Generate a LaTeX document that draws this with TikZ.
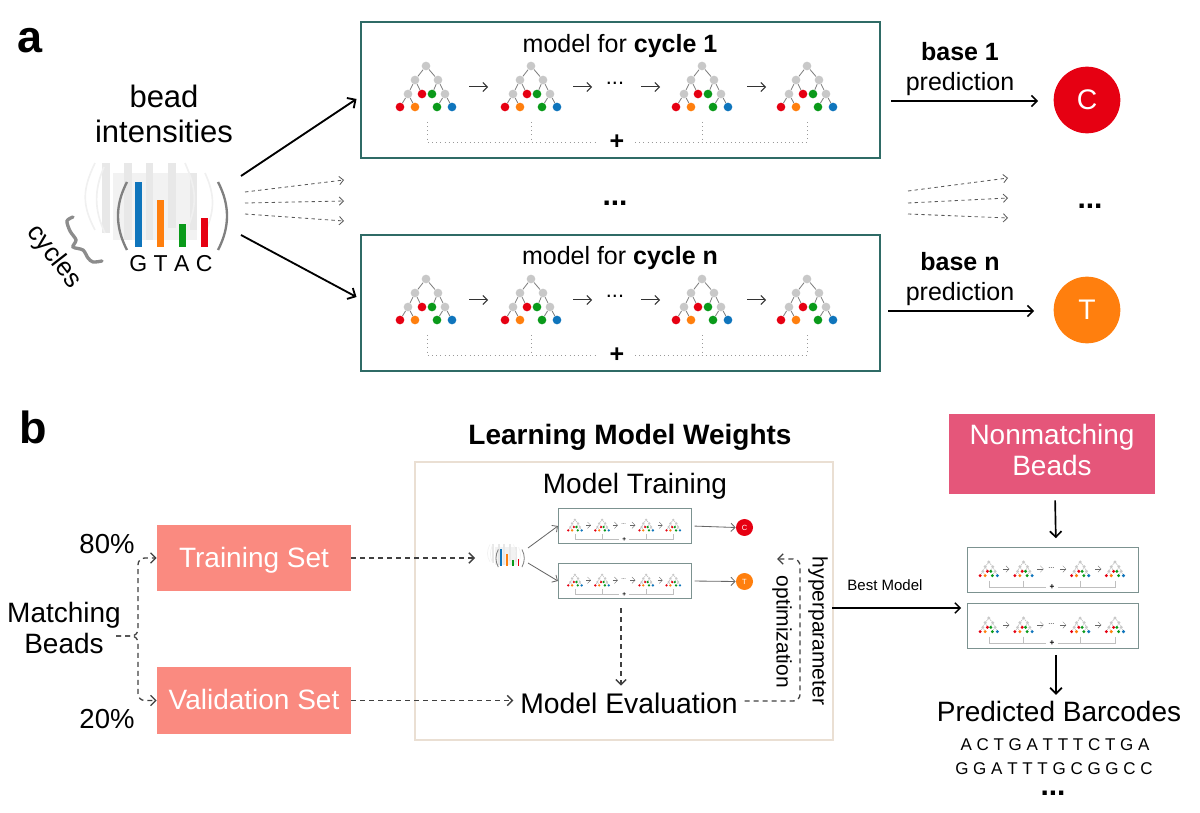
\documentclass[tikz,border=0pt]{standalone}
\usepackage{fontspec}
\setmainfont{Liberation Sans}
\usetikzlibrary{arrows.meta}
\definecolor{frameTeal}{HTML}{2F6B66}
\definecolor{beadRed}{HTML}{E60012}
\definecolor{beadOrange}{HTML}{FF7F0E}
\definecolor{beadGreen}{HTML}{0A9A1A}
\definecolor{beadBlue}{HTML}{0F75BC}
\definecolor{treeGray}{HTML}{C8C8C8}
\definecolor{setSalmon}{HTML}{FA8A80}
\definecolor{setPink}{HTML}{E5567A}
\definecolor{frameBeige}{HTML}{EADFD3}
\newcommand{\pxfont}[2]{\fontsize{#1}{#2}\selectfont}
\tikzset{
    treeEdge/.style={draw=gray,line width=.5pt},
    panelFrame/.style={draw=frameTeal,line width=1.2pt},
    panelBracket/.style={draw=gray!80,dotted,line width=.5pt},
    panelArrow/.style={->,>={Straight Barb},draw=black!80,line width=.6pt},
    beadParen/.style={draw=gray,line width=1.4pt},
    beadHalo/.style={draw=black!6,line width=1pt},
    treeDot/.style={circle,inner sep=0pt,minimum size=5.2pt},
    smallPanel/.style={scale=#1,transform shape,
        treeDot/.style={circle,inner sep=0pt,minimum size=6pt},
        treeEdge/.style={draw=gray!70,line width=.2pt},
        panelFrame/.style={draw=frameTeal!45!gray!80,line width=.6pt},
        panelBracket/.style={draw=gray!50,line width=.2pt},
        panelArrow/.style={->,>={Straight Barb},draw=black!60,line width=.2pt}},
    smallBead/.style={scale=.26,
        beadParen/.style={draw=gray,line width=.5pt},
        beadHalo/.style={draw=black!5,line width=.4pt}},
    flowArrow/.style={->,>={Straight Barb},line width=1.1pt},
    thinArrow/.style={->,>={Straight Barb},draw=black!60,line width=.5pt},
    fanArrow/.style={->,>={Straight Barb},draw=black!65,line width=.5pt,dash pattern=on 2pt off 2pt},
    dashFlow/.style={->,>={Straight Barb},draw=black!75,line width=.8pt,dash pattern=on 3pt off 2.4pt},
    setBox/.style={fill=setSalmon,text=white,inner sep=0pt,minimum width=116.4pt,minimum height=39.8pt,font=\pxfont{16.8}{19},text depth=1pt},
    baseDot/.style={circle,inner sep=0pt,text=white},
    bigText/.style={font=\pxfont{16.8}{19},align=center},
    midText/.style={font=\pxfont{15}{18},align=center},
    pics/modelpanel/.style={code={
        \node[panelFrame,fill=white,inner sep=0pt,minimum width=311.4pt,minimum height=82pt] (box) at (0,0) {};
        % four trees of the ensemble
        \foreach \tx in {-194,-89,82,187} {
            \begin{scope}[shift={(\tx,-24)}]
                \node[treeDot,fill=treeGray] (r) at (0,0) {};
                \node[treeDot,fill=treeGray] (p) at (-11,14) {};
                \node[treeDot,fill=treeGray] (q) at (12,14) {};
                \node[treeDot,fill=treeGray] (c) at (-18,28) {};
                \node[treeDot,fill=beadRed] (d) at (-4,28) {};
                \node[treeDot,fill=beadGreen] (e) at (6,28) {};
                \node[treeDot,fill=treeGray] (f) at (19,28) {};
                \node[treeDot,fill=beadRed] (g) at (-26,41) {};
                \node[treeDot,fill=beadOrange] (h) at (-11,41) {};
                \node[treeDot,fill=beadGreen] (i) at (11,41) {};
                \node[treeDot,fill=beadBlue] (j) at (26,41) {};
                \draw[treeEdge] (r) -- (p) (r) -- (q) (p) -- (c) (p) -- (d) (q) -- (e) (q) -- (f);
                \draw[treeEdge] (c) -- (g) (c) -- (h) (f) -- (i) (f) -- (j);
            \end{scope}
        }
        \draw[panelArrow] (-151,-3) -- (-132,-3);
        \draw[panelArrow] (-47,-3) -- (-28,-3);
        \draw[panelArrow] (21,-3) -- (40,-3);
        \draw[panelArrow] (127,-3) -- (146,-3);
        \node[font=\pxfont{13}{13}] (more) at (-5,-7) {...};
        % bracket summing the trees
        \draw[panelBracket] (-193,32) -- (-193,52) -- (-22,52);
        \draw[panelBracket] (15,52) -- (187,52) -- (187,32);
        \draw[panelBracket] (-89,32) -- (-89,52);
        \draw[panelBracket] (82,32) -- (82,52);
        \node[font=\bfseries\pxfont{15}{15}] (plus) at (-3,52) {+};
    }},
    pics/beadbars/.style={code={
        \fill[black!5] (-59,-42) rectangle (25,25);
        \foreach \bx/\bt/\bw/\bb in {-70/-52/-62/18,-48/-52/-40/25,-26/-52/-19/25,-4/-52/4/13,18/-42/25/15} {
            \fill[black!9] (\bx,\bt) rectangle (\bw,\bb);
        }
        \draw[beadHalo] (-77,-52) .. controls (-90,-25) and (-90,-10) .. (-77,15);
        \draw[beadHalo] (-68,-48) .. controls (-78,-25) and (-78,-5) .. (-67,18);
        \draw[beadHalo] (13,-52) .. controls (25,-25) and (25,-10) .. (15,15);
        \draw[beadHalo] (33,-42) .. controls (43,-20) and (43,-5) .. (33,18);
        \fill[beadBlue] (-37,-33) rectangle (-30,32);
        \fill[beadOrange] (-15,-15) rectangle (-8,32);
        \fill[beadGreen] (7,9) rectangle (14,32);
        \fill[beadRed] (29,3) rectangle (36,32);
        \draw[beadParen] (-45,-33) .. controls (-57,-10) and (-57,12) .. (-45,35);
        \draw[beadParen] (46,-33) .. controls (58,-10) and (58,12) .. (46,35);
    }},
}
\begin{document}
\begin{tikzpicture}[x=.6pt,y=-.6pt]
\useasboundingbox (0,0) rectangle (1200,813);
% panel a
\node[font=\bfseries\pxfont{27}{27}] (labelA) at (30,41) {a};
\node[font=\pxfont{18.6}{21},align=center] (beadTitle) at (164,114) {bead\\intensities};
\pic at (172,215) {beadbars};
\node[font=\pxfont{13.8}{14}] (letters) at (171,264) {G T A C};
\draw[draw=black!45,line width=2pt,line cap=round] plot[smooth] coordinates {(73,217) (67,221) (70,231) (76,240) (73,247) (83,250) (88,258) (93,262) (102,261)};
\node[font=\pxfont{15.6}{16},rotate=-52] (cycles) at (54,257) {cycles};
\pic (m1) at (620,90) {modelpanel};
\pic (m2) at (620,303) {modelpanel};
\node[midText] (titleOne) at (620,46) {model for \textbf{cycle 1}};
\node[midText] (titleN) at (620,258) {model for \textbf{cycle n}};
\coordinate (beadUp) at (241,176);
\coordinate (beadDown) at (241,235);
\draw[flowArrow] (beadUp) -- ([xshift=-1.8pt,yshift=-5.4pt]m1box.west);
\draw[flowArrow] (beadDown) -- ([xshift=-1.8pt,yshift=3.6pt]m2box.west);
% dashed fans for the other cycles
\coordinate (fanA) at (245,192);
\coordinate (fanB) at (245,203);
\coordinate (fanC) at (245,214);
\coordinate (fanD) at (344,180);
\coordinate (fanE) at (344,201);
\coordinate (fanF) at (344,221);
\draw[fanArrow] (fanA) -- (fanD);
\draw[fanArrow] (fanB) -- (fanE);
\draw[fanArrow] (fanC) -- (fanF);
\coordinate (fanG) at (908,191);
\coordinate (fanH) at (908,203);
\coordinate (fanI) at (908,214);
\coordinate (fanJ) at (1008,178);
\coordinate (fanK) at (1008,198);
\coordinate (fanL) at (1008,218);
\draw[fanArrow] (fanG) -- (fanJ);
\draw[fanArrow] (fanH) -- (fanK);
\draw[fanArrow] (fanI) -- (fanL);
\node[font=\bfseries\pxfont{18}{18}] (moreMid) at (615,203) {...};
\node[font=\bfseries\pxfont{18}{18}] (moreRight) at (1090,206) {...};
\node[midText] (baseOne) at (960,69.5) {\textbf{base 1}\\prediction};
\node[midText] (baseN) at (960,279.5) {\textbf{base n}\\prediction};
\node[baseDot,fill=beadRed,minimum size=40pt,font=\pxfont{17}{17}] (circC) at (1087,100) {C};
\node[baseDot,fill=beadOrange,minimum size=40pt,font=\pxfont{17}{17}] (circT) at (1087,310) {T};
\coordinate (outOne) at (891,101);
\coordinate (inOne) at (1038,101);
\coordinate (outN) at (888,311);
\coordinate (inN) at (1034,311);
\draw[flowArrow,line width=.9pt] (outOne) -- (inOne);
\draw[flowArrow,line width=.9pt] (outN) -- (inN);
% panel b
\node[font=\bfseries\pxfont{27}{27}] (labelB) at (33,427) {b};
\node[bigText] (matchBeads) at (64,628) {Matching\\Beads};
\node[font=\pxfont{16.5}{17}] (pctTop) at (107,544) {80\%};
\node[font=\pxfont{16.5}{17}] (pctBottom) at (107,719) {20\%};
\node[setBox] (trainSet) at (254,558) {Training Set};
\node[setBox] (validSet) at (254,700.5) {Validation Set};
\coordinate (matchOut) at (116,636);
\coordinate (splitPt) at (138,636);
\draw[dashFlow,rounded corners=4pt] (matchOut) -- (splitPt) |- (trainSet.west);
\draw[dashFlow,rounded corners=4pt] (matchOut) -- (splitPt) |- (validSet.west);
\node[draw=frameBeige,line width=1.2pt,inner sep=0pt,minimum width=250.8pt,minimum height=166.8pt] (learnFrame) at (624,601) {};
\node[font=\bfseries\pxfont{16.8}{17}] (learnTitle) at (630,437) {Learning Model Weights};
\node[font=\pxfont{16.8}{17}] (trainTitle) at (635,486) {Model Training};
\pic[smallBead] at (510,558) {beadbars};
\coordinate (beadTiny) at (475,558);
\coordinate (tinyUp) at (528,548);
\coordinate (tinyDown) at (528,563);
\pic[smallPanel=.258] (m3) at (625,526) {modelpanel};
\pic[smallPanel=.258] (m4) at (625,581) {modelpanel};
\draw[dashFlow] (trainSet.east) -- (beadTiny);
\draw[thinArrow] (tinyUp) -- (m3box.west);
\draw[thinArrow] (tinyDown) -- (m4box.west);
\node[baseDot,fill=beadRed,minimum size=10.2pt,font=\pxfont{4.5}{5}] (tinyC) at (744.5,527.5) {C};
\node[baseDot,fill=beadOrange,minimum size=10.2pt,font=\pxfont{4.5}{5}] (tinyT) at (744.5,581.5) {T};
\draw[thinArrow,shorten <=1.5pt] (m3box.east) -- (tinyC.west);
\draw[thinArrow,shorten <=1.5pt] (m4box.east) -- (tinyT.west);
\node[font=\pxfont{17}{18},inner sep=4pt] (evalNode) at (629,703) {Model Evaluation};
\coordinate (evalFeed) at (621,608);
\draw[dashFlow] (evalFeed) -- (evalFeed |- evalNode.north);
\draw[dashFlow] (validSet.east) -- (evalNode.west |- validSet.east);
\coordinate (hyperLow) at (800,701);
\coordinate (hyperTop) at (800,559);
\coordinate (hyperTip) at (777,559);
\draw[dashFlow,rounded corners=4pt] (evalNode.east |- hyperLow) -- (hyperLow) -- (hyperTop) -- (hyperTip);
\node[font=\pxfont{12.6}{13},rotate=-90] (hyperText) at (818,631) {hyperparameter};
\node[font=\pxfont{12.6}{13},rotate=-90] (optText) at (782,632) {optimization};
\node[font=\pxfont{9}{9}] (bestText) at (885,585) {Best Model};
\coordinate (bestOut) at (832,608);
\coordinate (bestIn) at (961,608);
\draw[flowArrow,line width=.8pt] (bestOut) -- (bestIn);
\node[setBox,fill=setPink,minimum width=123.6pt,minimum height=48pt,align=center,text depth=5pt] (nonMatch) at (1052,454) {Nonmatching\\Beads};
\pic[smallPanel=.331] (m5) at (1053,570) {modelpanel};
\pic[smallPanel=.331] (m6) at (1053,626) {modelpanel};
\node[font=\pxfont{16.8}{17}] (barcodes) at (1059,711) {Predicted Barcodes};
\draw[flowArrow,line width=1pt,shorten <=3.6pt,shorten >=5.4pt] ([xshift=1.8pt]nonMatch.south) -- ([xshift=1.8pt]m5box.north);
\draw[flowArrow,line width=1pt,shorten <=3.6pt] ([xshift=1.8pt]m6box.south) -- ([xshift=1.8pt]m6box.south |- barcodes.north);
\node[font=\pxfont{10.2}{11}] (seqOne) at (1055,745) {A C T G A T T T C T G A};
\node[font=\pxfont{10.2}{11}] (seqTwo) at (1054,769) {G G A T T T G C G G C C};
\node[font=\bfseries\pxfont{18}{18}] (seqMore) at (1053,793) {...};
\end{tikzpicture}
\end{document}
